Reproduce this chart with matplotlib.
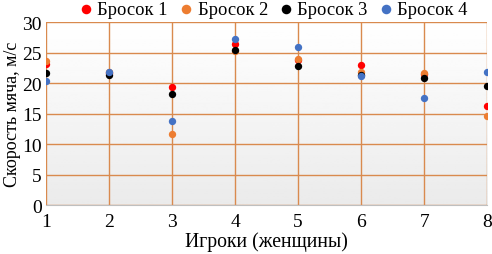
import matplotlib.pyplot as plt
import numpy as np

plt.rcParams['font.family'] = ['Liberation Serif', 'DejaVu Serif']

players = [1, 2, 3, 4, 5, 6, 7, 8]
throw1 = [23.1, 21.6, 19.4, 26.4, 23.8, 23.0, 21.5, 16.3]
throw2 = [23.7, 21.9, 11.6, 25.2, 24.0, 21.8, 21.7, 14.6]
throw3 = [21.6, 21.3, 18.3, 25.4, 22.8, 21.4, 20.8, 19.6]
throw4 = [20.3, 21.8, 13.8, 27.3, 26.0, 21.2, 17.5, 21.8]

labels = ['Бросок 1', 'Бросок 2', 'Бросок 3', 'Бросок 4']
colors = ['#FF0000', '#ED7D31', '#000000', '#4472C4']

fig = plt.figure(figsize=(4.92, 2.55), dpi=100)
ax = fig.add_axes([0.0935, 0.192, 0.897, 0.717])

# light vertical gradient in the plot area
grad = np.linspace(1.0, 0.92, 100).reshape(-1, 1)
ax.imshow(grad, cmap='gray', vmin=0, vmax=1, aspect='auto',
          extent=[0, 1, 0, 1], transform=ax.transAxes, zorder=0)

for ys, lab, c in zip([throw1, throw2, throw3, throw4], labels, colors):
    ax.scatter(players, ys, s=28, color=c, label=lab, zorder=3, linewidths=0)

ax.set_xlim(1, 8)
ax.set_ylim(0, 30)
ax.set_xticks(players)
ax.set_yticks(range(0, 31, 5))
ax.grid(True, color='#D98A4E', linewidth=1.0, zorder=1)
ax.set_axisbelow(True)
for s in ['top', 'right', 'left']:
    ax.spines[s].set_visible(False)
ax.spines['bottom'].set_color('#BFBFBF')
ax.tick_params(length=0, labelsize=14, pad=3)
ax.tick_params(axis='x', pad=6)

ax.set_xlabel('Игроки (женщины)', fontsize=14.2, labelpad=1)
ax.set_ylabel('Скорость мяча, м/с', fontsize=13, labelpad=1)

ax.legend(loc='lower center', bbox_to_anchor=(0.513, 0.985), ncol=4, frameon=False,
          fontsize=13.3, handletextpad=0.1, columnspacing=0.5, borderaxespad=0,
          handlelength=1.0, markerscale=1.3)

fig.savefig('out.png', dpi=100)
